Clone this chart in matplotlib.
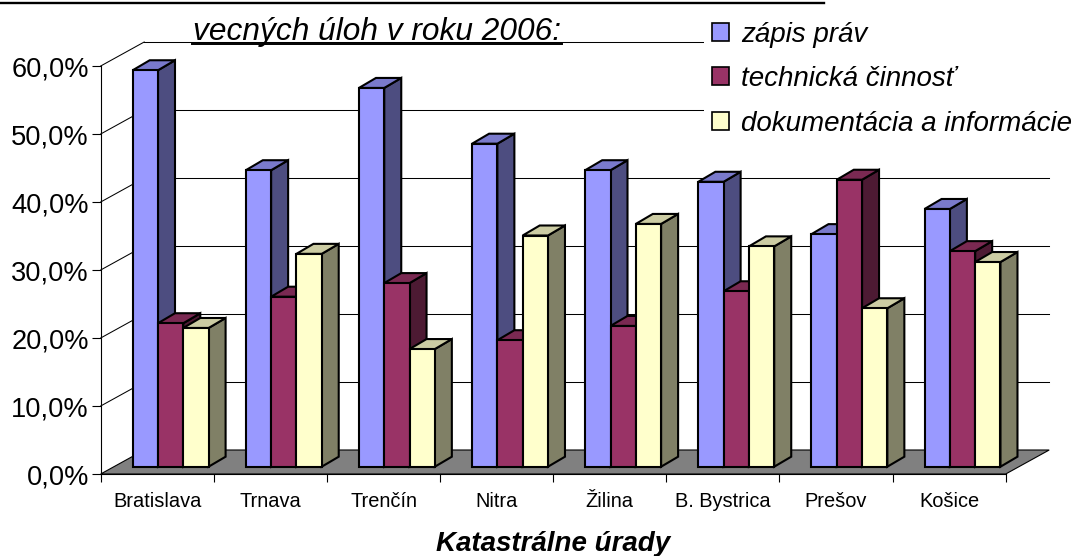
import matplotlib
matplotlib.use("Agg")
import matplotlib.pyplot as plt
from matplotlib.patches import Polygon, Patch
from matplotlib.lines import Line2D

plt.rcParams['font.family'] = ['Liberation Sans', 'DejaVu Sans']

categories = ["Bratislava", "Trnava", "Trenčín", "Nitra", "Žilina", "B. Bystrica", "Prešov", "Košice"]
zapis = [58.3, 43.6, 55.7, 47.5, 43.6, 41.9, 34.2, 37.9]
technicka = [21.1, 25.0, 27.0, 18.6, 20.7, 25.8, 42.2, 31.7]
dokumentacia = [20.4, 31.3, 17.3, 34.0, 35.7, 32.4, 23.3, 30.1]
series_names = ["zápis práv", "technická činnosť", "dokumentácia a informácie"]
yticks = [0, 10, 20, 30, 40, 50, 60]
ytick_labels = ["0,0%", "10,0%", "20,0%", "30,0%", "40,0%", "50,0%", "60,0%"]
title_line = "vecných úloh v roku 2006:"
xlabel = "Katastrálne úrady"

W, H = 1077, 556
fig = plt.figure(figsize=(W / 100, H / 100), dpi=100, facecolor="white")
L, R, T, B = 100.7, 1005.7, 66.0, 474.0
ax = fig.add_axes([L / W, 1 - B / H, (R - L) / W, (B - T) / H])
n = len(categories)
ax.set_xlim(0, n)
ax.set_ylim(0, 60)
ux = (R - L) / n
uy = (B - T) / 60

# depth of the box and of the bars, from pixels to data units
DX, DY = 43.5 / ux, 24.0 / uy
bar_w = 25.3 / ux
bar_off = 32.0 / ux
bar_base = 7.3 / uy
bdx, bdy = 17.0 / ux, 10.0 / uy

for s in ("top", "right"):
    ax.spines[s].set_visible(False)
ax.patch.set_alpha(0)
for s in ("left", "bottom"):
    ax.spines[s].set_linewidth(0.8)
    ax.spines[s].set_zorder(1)

# walls and floor
for v in yticks[1:]:
    ax.plot([0, DX], [v, v + DY], color="black", lw=0.75, clip_on=False, zorder=1)
    ax.plot([DX, n + DX], [v + DY, v + DY], color="black", lw=0.75, clip_on=False, zorder=1)
ax.add_patch(Polygon([(0, 0), (n, 0), (n + DX, DY), (DX, DY)], closed=True, facecolor="#808080",
                     edgecolor="black", lw=0.8, clip_on=False, zorder=1.5))

colors = [("#9999FF", "#7A7ACC", "#4D4D80"),
          ("#993366", "#7A2952", "#4D1A33"),
          ("#FFFFCC", "#CCCCA3", "#808066")]
all_series = [zapis, technicka, dokumentacia]
z = 2.0
for i in range(n):
    for j, values in enumerate(all_series):
        v = values[i]
        x0 = i + bar_off + j * bar_w
        x1 = x0 + bar_w
        y0 = bar_base
        y1 = bar_base + v
        front, top, side = colors[j]
        kw = dict(closed=True, edgecolor="black", lw=1.5, clip_on=False, joinstyle="miter")
        ax.add_patch(Polygon([(x1, y0), (x1 + bdx, y0 + bdy), (x1 + bdx, y1 + bdy), (x1, y1)],
                             facecolor=side, zorder=z, **kw))
        ax.add_patch(Polygon([(x0, y1), (x1, y1), (x1 + bdx, y1 + bdy), (x0 + bdx, y1 + bdy)],
                             facecolor=top, zorder=z, **kw))
        ax.add_patch(Polygon([(x0, y0), (x1, y0), (x1, y1), (x0, y1)],
                             facecolor=front, zorder=z + 0.1, **kw))
        z += 0.2

ax.set_yticks(yticks)
ax.set_yticklabels(ytick_labels, fontsize=19.6, color="black")
ax.tick_params(axis="y", length=6.5, width=0.8, pad=2)
ax.set_xticks(range(n + 1))
ax.set_xticklabels([])
ax.tick_params(axis="x", which="major", length=6, width=0.8)
ax.set_xticks([i + 0.5 for i in range(n)], minor=True)
ax.set_xticklabels(categories, minor=True, fontsize=14.4, color="black")
ax.tick_params(axis="x", which="minor", length=0, pad=13)
ax.set_xlabel(xlabel, fontsize=20, fontweight="bold", fontstyle="italic", va="baseline")
ax.xaxis.set_label_coords(0.5, (B - 551) / (B - T))

handles = [Patch(facecolor=c[0], edgecolor="black", lw=1.2) for c in colors]
leg = fig.legend(handles, series_names, loc="upper left", bbox_to_anchor=(703.5 / W, 1 - 13.5 / H),
                 bbox_transform=fig.transFigure, frameon=True, facecolor="white",
                 edgecolor="none", framealpha=1, prop=dict(style="italic", size=20),
                 handlelength=0.62, handleheight=0.62, handletextpad=0.43, labelspacing=0.66,
                 borderpad=0.3, borderaxespad=0, fancybox=False)
leg.set_zorder(50)

fig.text(193 / W, 1 - 40 / H, title_line, fontsize=22.8, fontstyle="italic", color="black",
         ha="left", va="baseline", zorder=60)
fig.add_artist(Line2D([192 / W, 562 / W], [1 - 44.3 / H] * 2, color="black", lw=1.4, zorder=60))
fig.add_artist(Line2D([0, 824 / W], [1 - 3 / H] * 2, color="black", lw=1.7, zorder=60))

fig.savefig("out.png", dpi=100, facecolor="white")
